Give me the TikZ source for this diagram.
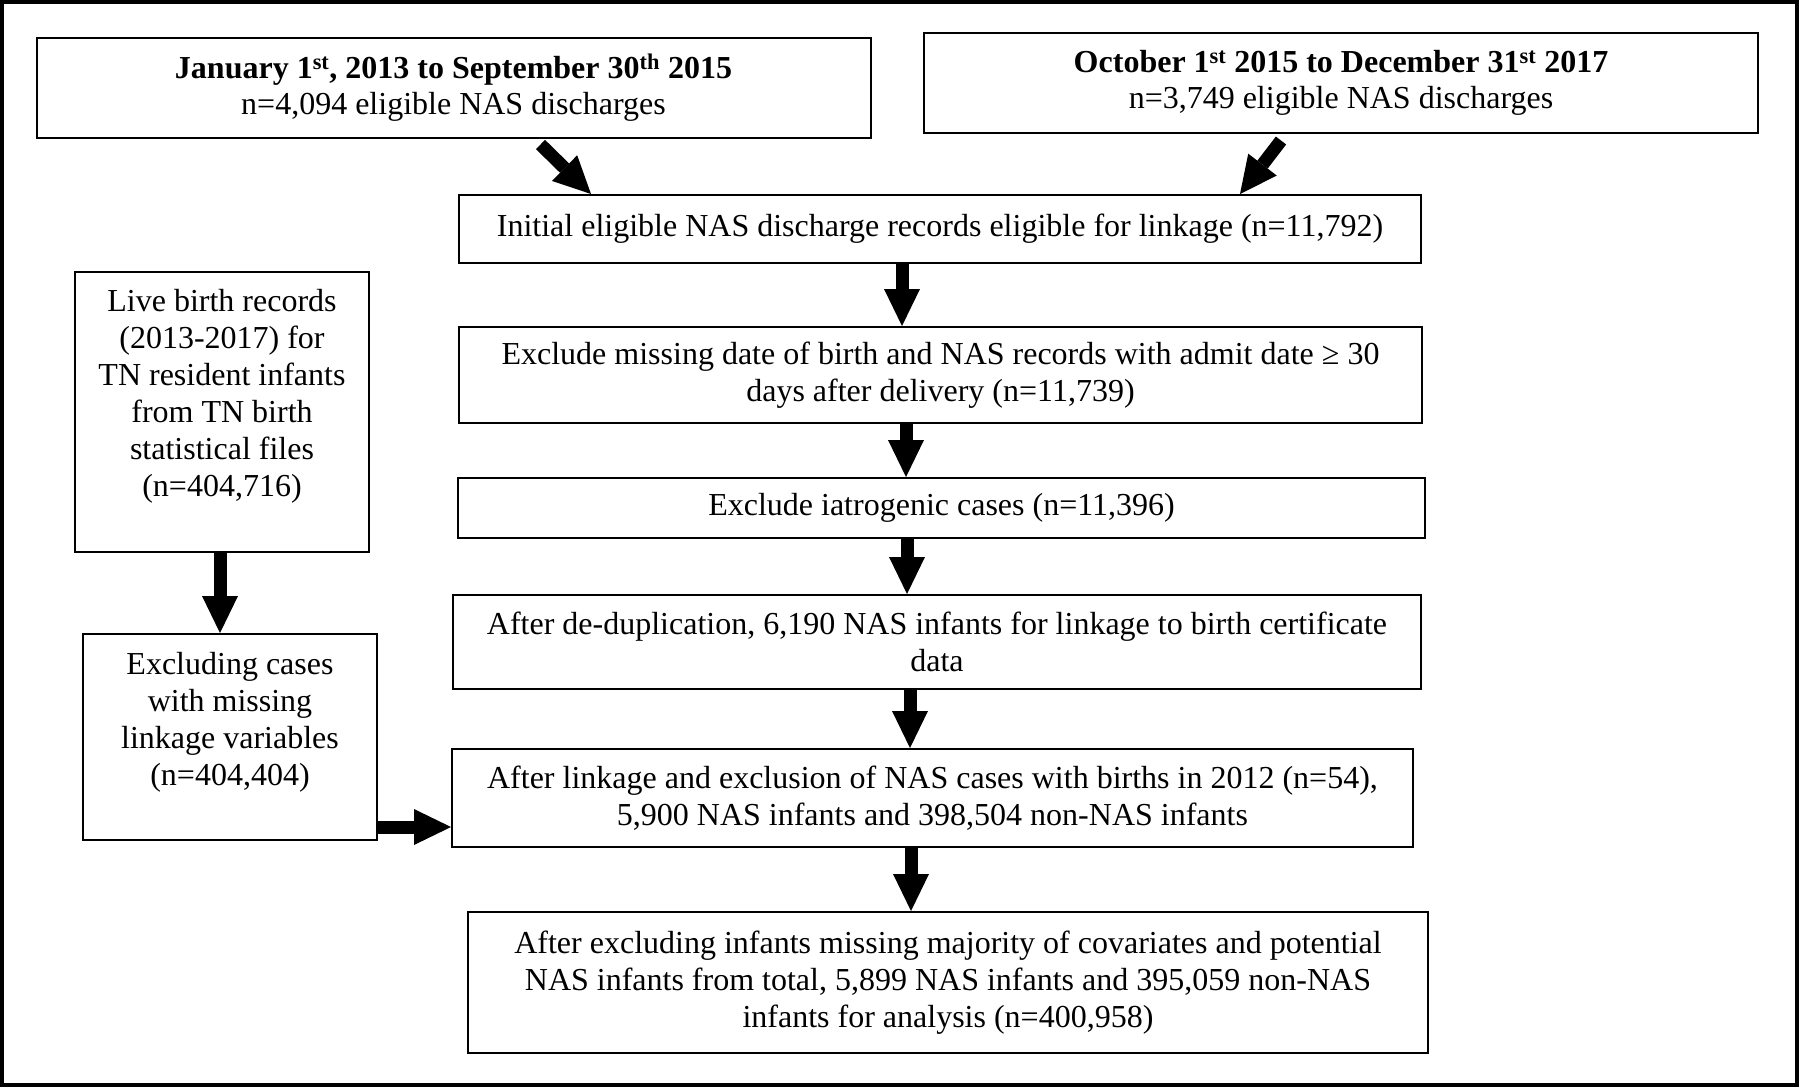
\documentclass[tikz,border=0pt]{standalone}
\usepackage{fontspec}
\setmainfont{Liberation Serif}
\usetikzlibrary{arrows.meta}
\begin{document}
\begin{tikzpicture}[x=1pt, y=-1pt,
  box/.style={draw, line width=2pt, inner sep=0pt, align=center,
    font=\fontsize{32}{37}\selectfont},
  datebox/.style={box, minimum width=834pt, minimum height=100pt,
    font=\fontsize{32}{36}\selectfont},
  sidebox/.style={draw, line width=2pt, inner sep=0pt,
    font=\fontsize{32}{37}\selectfont},
  fat/.style={line width=13pt, -{Triangle[length=37pt, width=36pt, line width=0pt]}}]
\useasboundingbox (0,0) rectangle (1800,1088);
\draw[line width=4pt] (2,2) rectangle (1797,1085);

% the two discharge periods
\node[datebox] (jan) at (453.5,87.5) {\textbf{January 1\textsuperscript{st}, 2013 to September 30\textsuperscript{th} 2015}\\ n=4,094 eligible NAS discharges};
\node[datebox] (oct) at (1341,82.5) {\textbf{October 1\textsuperscript{st} 2015 to December 31\textsuperscript{st} 2017}\\ n=3,749 eligible NAS discharges};

% main column
\node[box, minimum width=962pt, minimum height=68pt] (init) at (940,229) {Initial eligible NAS discharge records eligible for linkage (n=11,792)};
\node[box, minimum width=963pt, minimum height=96pt] (excl) at (940.5,375) {Exclude missing date of birth and NAS records with admit date ≥ 30\\ days after delivery (n=11,739)};
\node[box, minimum width=967pt, minimum height=60pt] (iatro) at (941.5,508) {Exclude iatrogenic cases (n=11,396)};
\node[box, minimum width=968pt, minimum height=94pt] (dedup) at (937,642) {After de-duplication, 6,190 NAS infants for linkage to birth certificate\\ data};
\node[box, minimum width=961pt, minimum height=98pt] (link) at (932.5,798) {After linkage and exclusion of NAS cases with births in 2012 (n=54),\\ 5,900 NAS infants and 398,504 non-NAS infants};
\node[box, minimum width=960pt, minimum height=141pt] (final) at (948,982.5) {After excluding infants missing majority of covariates and potential\\ NAS infants from total, 5,899 NAS infants and 395,059 non-NAS\\ infants for analysis (n=400,958)};

% birth records
\node[sidebox] (live) at (222,412) {\parbox[c][280pt][t]{294pt}{\centering\vspace*{17pt}Live birth records\\ (2013-2017) for\\ TN resident infants\\ from TN birth\\ statistical files\\ (n=404,716)}};
\node[sidebox] (cases) at (230,737) {\parbox[c][206pt][t]{294pt}{\centering\vspace*{18pt}Excluding cases\\ with missing\\ linkage variables\\ (n=404,404)}};

\draw[fat] ([shift={(87,6)}]jan.south) -- ([xshift=-349pt]init.north);
\draw[fat] ([shift={(-60,7)}]oct.south) -- ([xshift=300pt]init.north);
\draw[fat] ([xshift=-38pt]init.south) -- ([xshift=-38pt]init.south |- excl.north);
\draw[fat] ([xshift=-34.5pt]excl.south) -- ([xshift=-34.5pt]excl.south |- iatro.north);
\draw[fat] ([xshift=-34.5pt]iatro.south) -- ([xshift=-34.5pt]iatro.south |- dedup.north);
\draw[fat] ([xshift=-27pt]dedup.south) -- ([xshift=-27pt]dedup.south |- link.north);
\draw[fat] ([xshift=-21.5pt]link.south) -- ([xshift=-21.5pt]link.south |- final.north);
\draw[fat] ([xshift=-2pt]live.south) -- ([xshift=-2pt]live.south |- cases.north);
\draw[fat] ([yshift=-90pt]cases.east) -- ([yshift=-90pt]cases.east -| link.west);
\end{tikzpicture}
\end{document}
